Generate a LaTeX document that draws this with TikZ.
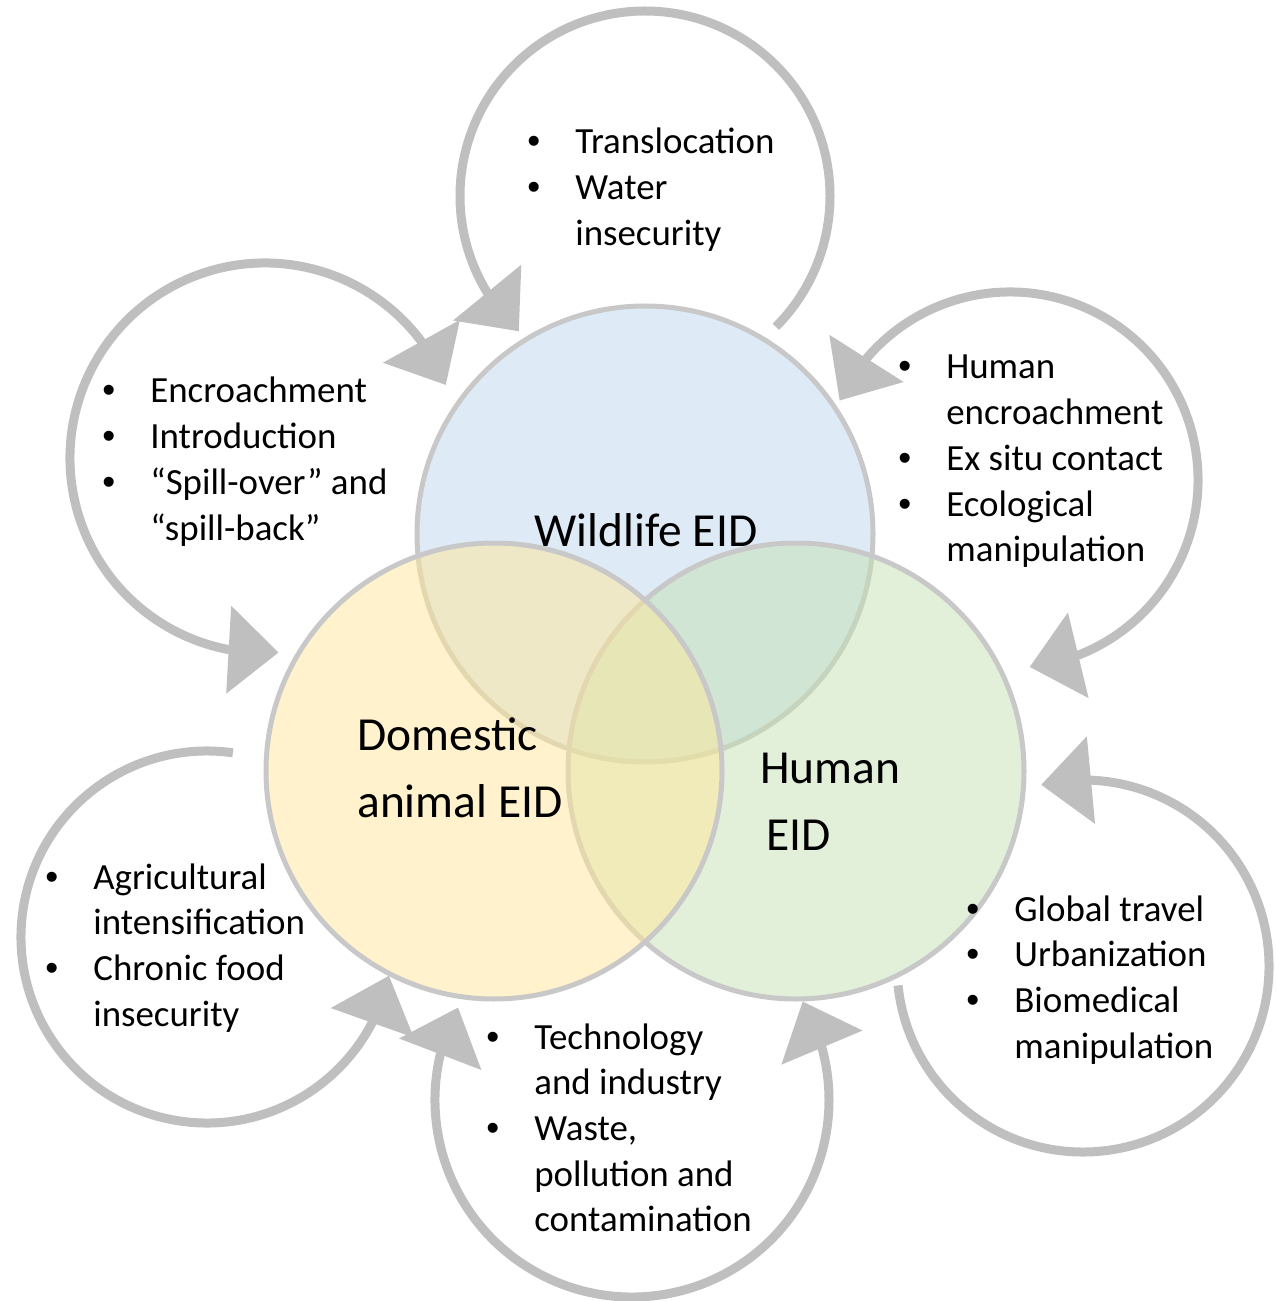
\documentclass[tikz,border=0pt]{standalone}
\usepackage{fontspec}
\setmainfont{Carlito}
\newfontfamily\bulletfont{Liberation Sans}
\usepackage{xcolor}
\usepackage{tikz}
\usetikzlibrary{arrows.meta,bending}
\definecolor{wild}{HTML}{BDD7EE}
\definecolor{dom}{HTML}{FFE699}
\definecolor{hum}{HTML}{C5E0B4}
\definecolor{rim}{HTML}{C8C8C8}
\definecolor{loopc}{HTML}{BFBFBF}

\newcommand{\drivers}[1]{\begin{tabular}[t]{@{}p{0.96cm}@{}l@{}}#1\end{tabular}}
\newcommand{\bul}{{\bulletfont\textbullet}}

\begin{document}
\begin{tikzpicture}[
  eid/.style={circle, draw=rim, line width=0.1cm, fill opacity=0.5, minimum size=9.12cm},
  cyc/.style={draw=loopc, line width=0.18cm},
  into/.style={cyc, -{Triangle[width=1.72cm, length=1cm]}},
  ends/.style={cyc, {Triangle[width=1.72cm, length=1cm]}-{Triangle[width=1.72cm, length=1cm]}},
  list/.style={anchor=base west, inner sep=0pt, font=\fontsize{21}{26}\selectfont},
  big/.style={inner sep=0pt, align=left, font=\fontsize{27}{38}\selectfont}
]
\useasboundingbox (0,0) rectangle (25.5,-26.02);

% the three EID circles
\node[eid, fill=wild] (wildlife) at (12.90,-10.68) {};
\node[eid, fill=hum] (human) at (15.92,-15.42) {};
\node[eid, fill=dom] (domestic) at (9.88,-15.42) {};

% centres of the driver loops
\coordinate (ltop) at (12.90,-3.92);
\coordinate (lleft) at (5.30,-9.16);
\coordinate (lright) at (20.20,-9.60);
\coordinate (llowright) at (21.66,-19.32);
\coordinate (lbottom) at (12.64,-22.00);
\coordinate (llowleft) at (4.14,-18.74);

\draw[into] ([shift={(-45:3.70)}]ltop) arc[start angle=-45, end angle=227, radius=3.70];
\draw[ends] ([shift={(22:3.90)}]lleft) arc[start angle=22, end angle=274, radius=3.90];
\draw[ends] ([shift={(155:3.76)}]lright) arc[start angle=155, end angle=-84, radius=3.76];
\draw[into] ([shift={(186:3.72)}]llowright) arc[start angle=186, end angle=463, radius=3.72];
\draw[ends] ([shift={(152:3.94)}]lbottom) arc[start angle=152, end angle=390, radius=3.94];
\draw[into] ([shift={(82:3.72)}]llowleft) arc[start angle=82, end angle=348, radius=3.72];

\node[big, anchor=base] (wildlbl) at (12.92,-10.92) {Wildlife EID};
\node[big, anchor=base west] (domlbl) at (7.14,-16.34) {Domestic\\animal EID};
\node[big, anchor=base west] (humlbl) at (15.20,-17.00) {Human\\\hspace{0.12cm}EID};

\node[list] (toplist) at (10.54,-3.08) {\drivers{%
  \bul & Translocation\\
  \bul & Water\\
       & insecurity}};
\node[list] (leftlist) at (2.04,-8.06) {\drivers{%
  \bul & Encroachment\\
  \bul & Introduction\\
  \bul & “Spill-over” and\\
       & “spill-back”}};
\node[list] (rightlist) at (17.96,-7.58) {\drivers{%
  \bul & Human\\
       & encroachment\\
  \bul & Ex situ contact\\
  \bul & Ecological\\
       & manipulation}};
\node[list] (lowrightlist) at (19.32,-18.42) {\drivers{%
  \bul & Global travel\\
  \bul & Urbanization\\
  \bul & Biomedical\\
       & manipulation}};
\node[list] (bottomlist) at (9.72,-20.98) {\drivers{%
  \bul & Technology\\
       & and industry\\
  \bul & Waste,\\
       & pollution and\\
       & contamination}};
\node[list] (lowleftlist) at (0.90,-17.78) {\drivers{%
  \bul & Agricultural\\
       & intensification\\
  \bul & Chronic food\\
       & insecurity}};
\end{tikzpicture}
\end{document}
